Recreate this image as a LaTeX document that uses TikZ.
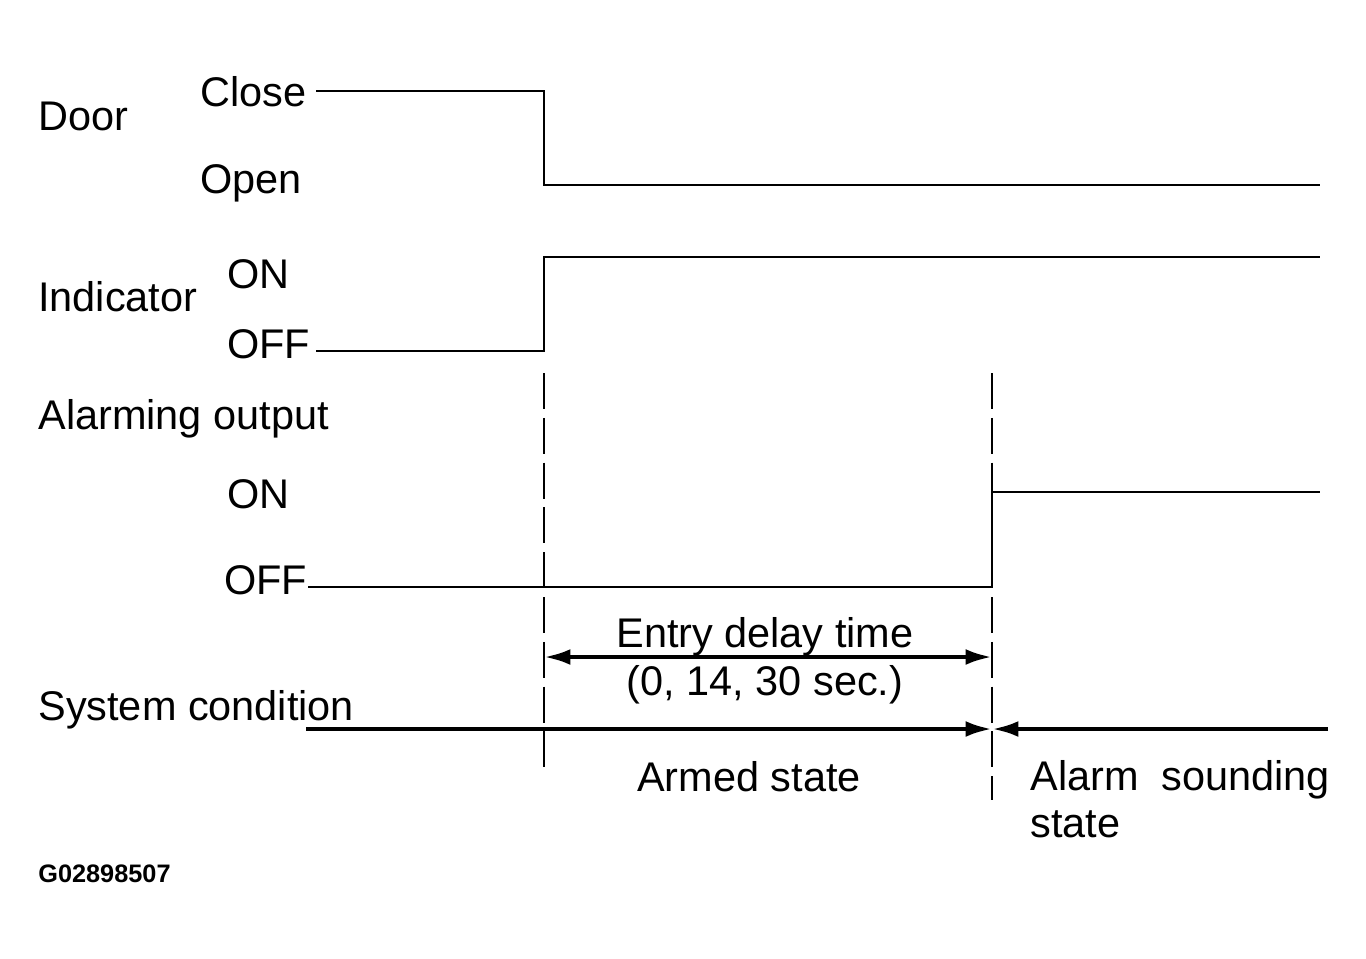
\documentclass[tikz,border=0pt]{standalone}
\usepackage{fontspec}
\setmainfont{Liberation Sans}
\usetikzlibrary{arrows.meta}

\begin{document}
\begin{tikzpicture}[x=0.02cm, y=-0.02cm,
	lbl/.style={anchor=base west, inner sep=0pt, font=\fontsize{23.6}{28}\selectfont},
	mid/.style={anchor=base, inner sep=0pt, font=\fontsize{23.6}{28}\selectfont},
	wave/.style={line width=1.4pt},
	guide/.style={line width=1.3pt, dash pattern=on 20.5pt off 5pt},
	span/.style={line width=2.4pt, -{Latex[length=15pt,width=9pt]}}]
	\useasboundingbox (0,0) rectangle (1366,958);

	% signal names and levels
	\node[lbl] (door) at (38,130) {Door};
	\node[lbl] (close) at (200,106) {Close};
	\node[lbl] (open) at (200,193) {Open};
	\node[lbl] (ind) at (38,311) {Indicator};
	\node[lbl] (indon) at (227,288) {ON};
	\node[lbl] (indoff) at (227,358) {OFF};
	\node[lbl] (alarm) at (38,429) {Alarming output};
	\node[lbl] (alon) at (227,508) {ON};
	\node[lbl] (aloff) at (224,594) {OFF};
	\node[lbl] (sys) at (38,720) {System condition};

	% waveforms
	\coordinate (d0) at (316,91);
	\coordinate (d1) at (544,185);
	\coordinate (d2) at (1320,185);
	\coordinate (i0) at (316,351);
	\coordinate (i1) at (544,257);
	\coordinate (i2) at (1320,257);
	\coordinate (a0) at (308,587);
	\coordinate (a1) at (992,492);
	\coordinate (a2) at (1320,492);
	\draw[wave] (d0) -| (d1) -- (d2);
	\draw[wave] (i0) -| (i1) -- (i2);
	\draw[wave] (a0) -| (a1) -- (a2);

	% time marks
	\coordinate (t1a) at (544,373);
	\coordinate (t1b) at (544,768);
	\coordinate (t2a) at (992,373);
	\coordinate (t2b) at (992,800);
	\draw[guide] (t1a) -- (t1b);
	\draw[guide] (t2a) -- (t2b);

	% entry delay
	\coordinate (e1) at (544,657);
	\coordinate (e2) at (992,657);
	\draw[span, {Latex[length=15pt,width=9pt]}-{Latex[length=15pt,width=9pt]}] (e1) -- (e2);
	\node[mid] (delay) at (765,647) {Entry delay time};
	\node[mid] (secs) at (765,695) {(0, 14, 30 sec.)};

	% system condition
	\coordinate (s0) at (306,729);
	\coordinate (s1) at (992,729);
	\coordinate (s2) at (1328,729);
	\draw[span] (s0) -- (s1);
	\draw[span] (s2) -- (s1);
	\node[mid] (armed) at (749,791) {Armed state};
	\node[lbl] (sound) at (1030,790) {Alarm\ \ sounding};
	\node[lbl] (state) at (1030,837) {state};

	\node[anchor=base west, inner sep=0pt, font=\fontsize{14.4}{17}\selectfont\bfseries] (code) at (38,882) {G02898507};
\end{tikzpicture}
\end{document}
